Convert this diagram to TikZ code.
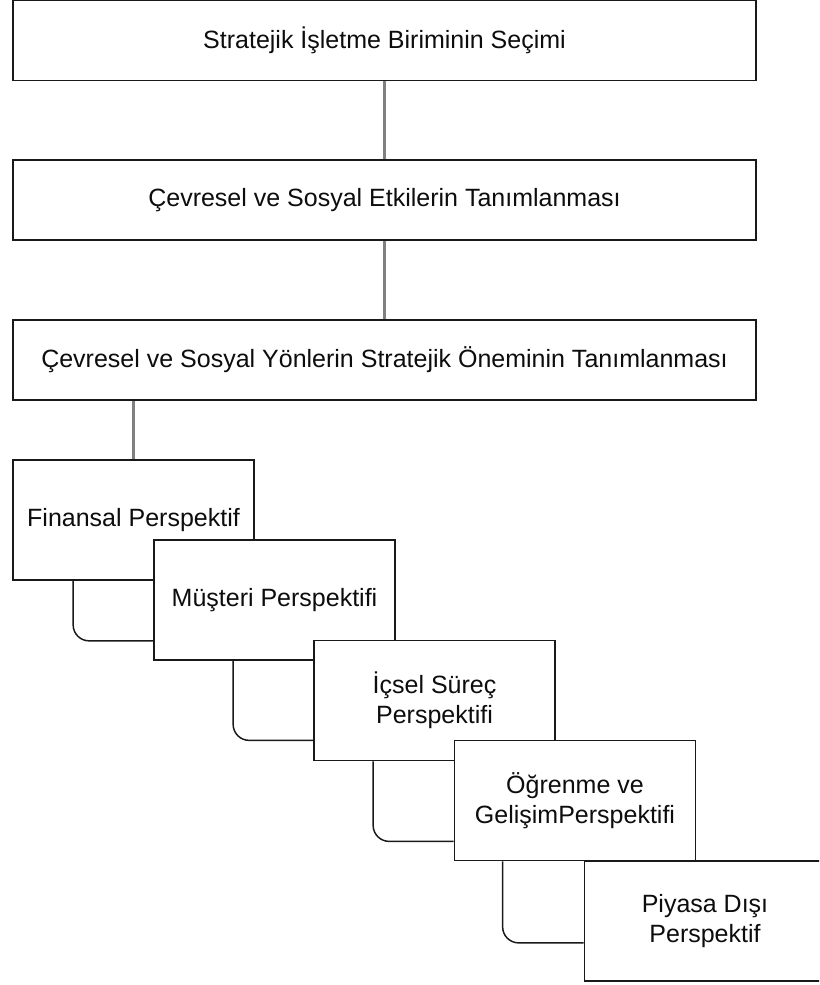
\documentclass[tikz,border=0pt]{standalone}
\usepackage{fontspec}
\setmainfont{Liberation Sans}
\begin{document}
\begin{tikzpicture}[x=0.75pt,y=-0.75pt,
  box/.style={draw=black!90, line width=1.3pt, fill=white, text=black!95,
    align=center, inner sep=0pt,
    font=\fontsize{18.75}{22.5}\selectfont},
  wide/.style={box, minimum width=557.25pt, minimum height=60pt},
  persp/.style={box, minimum width=180.75pt, minimum height=90pt},
  trunk/.style={draw={rgb,255:red,128;green,128;blue,128}, line width=1.8pt},
  branch/.style={draw=black!90, line width=1.1pt, rounded corners=12pt}]
  \useasboundingbox (0,0) rectangle (819,985);
  \clip (0,0) rectangle (819,985);

  % main sequence of steps
  \node[wide] (s1) at (384.5,40.5) {Stratejik İşletme Biriminin Seçimi};
  \node[wide] (s2) at (384.5,200) {Çevresel ve Sosyal Etkilerin Tanımlanması};
  \node[wide] (s3) at (384.5,360) {Çevresel ve Sosyal Yönlerin Stratejik Öneminin Tanımlanması};

  % cascading perspectives, each drawn over the previous one
  \node[persp] (fin) at (133.5,520) {Finansal Perspektif};
  \node[persp] (mus) at (274.5,600) {Müşteri Perspektifi};
  \node[persp] (ics) at (434.5,700.5) {İçsel Süreç\\Perspektifi};
  \node[persp] (ogr) at (575,800.5) {Öğrenme ve\\GelişimPerspektifi};
  \node[persp] (piy) at (705,921) {Piyasa Dışı\\Perspektif};

  % links between the main steps
  \draw[trunk] (s1.south) -- (s2.north);
  \draw[trunk] (s2.south) -- (s3.north);
  \draw[trunk] (fin.north) -- (fin.north |- s3.south);

  % links between the perspectives
  \draw[branch] ([xshift=45.75pt]fin.south west) |- ([yshift=15pt]mus.south west);
  \draw[branch] ([xshift=60pt]mus.south west) |- ([yshift=15.75pt]ics.south west);
  \draw[branch] ([xshift=45pt]ics.south west) |- ([yshift=15pt]ogr.south west);
  \draw[branch] ([xshift=36.75pt]ogr.south west) |- ([yshift=29.25pt]piy.south west);
\end{tikzpicture}
\end{document}
